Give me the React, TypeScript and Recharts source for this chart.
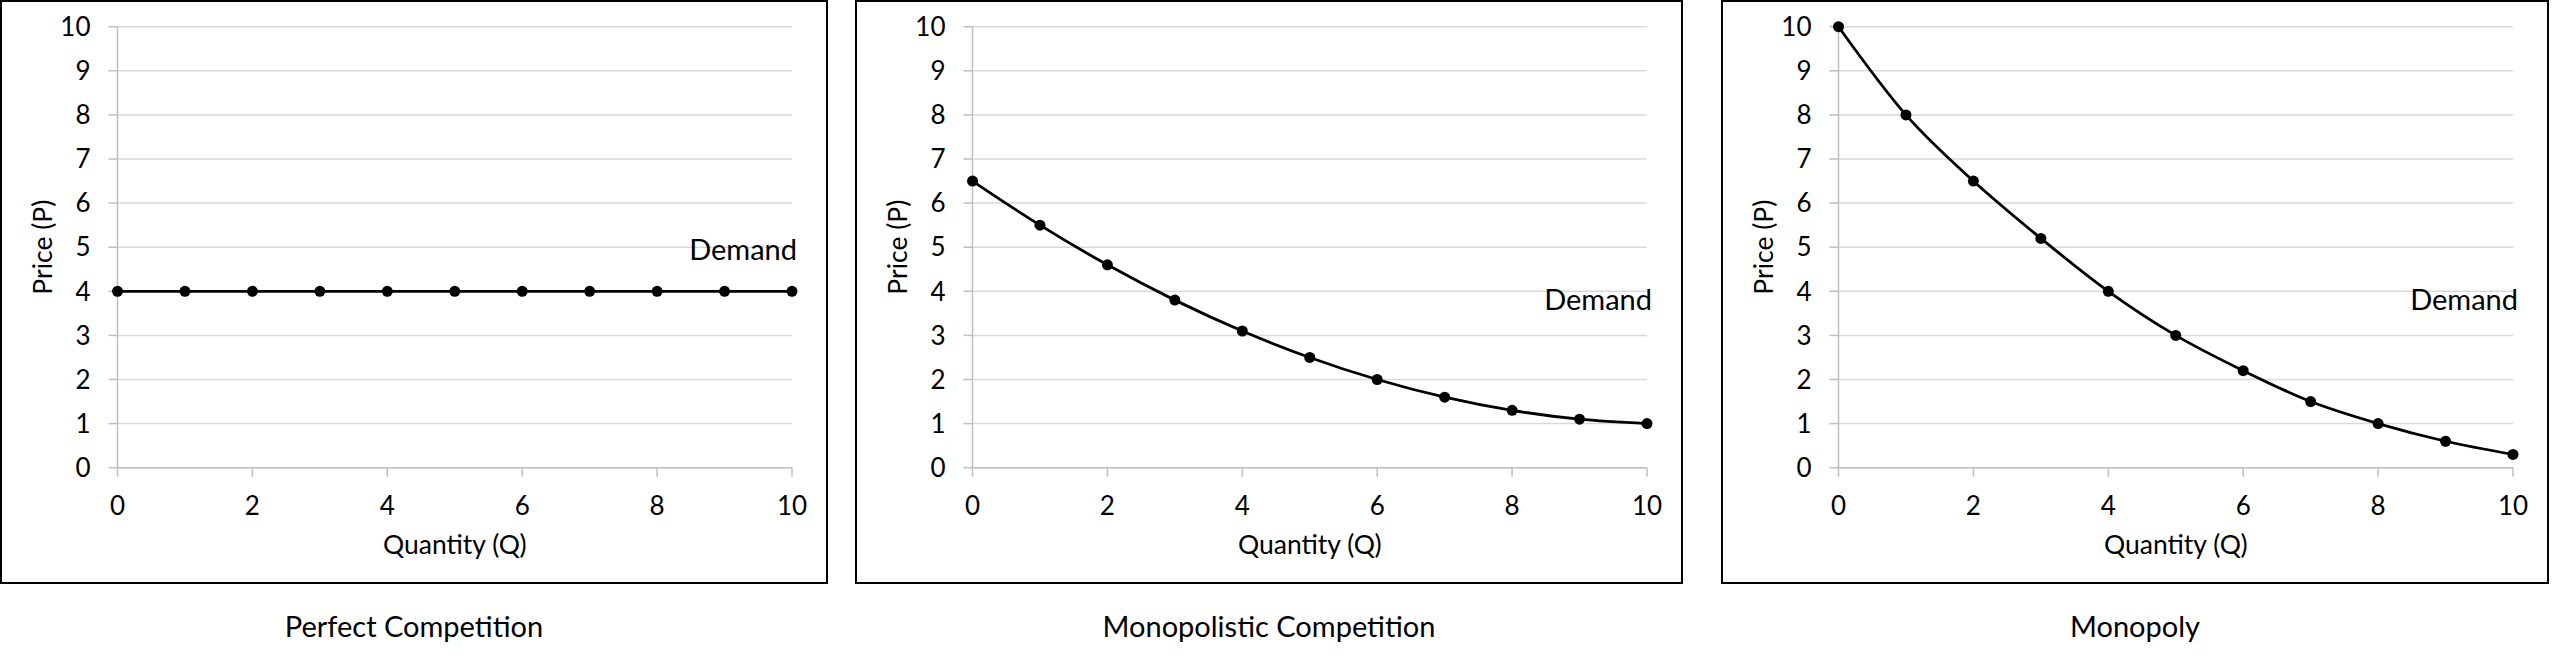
import { LineChart, Line, XAxis, YAxis, CartesianGrid, ReferenceDot } from "recharts";

const QUANTITY = [0, 1, 2, 3, 4, 5, 6, 7, 8, 9, 10];
const PERFECT_PRICE = [4, 4, 4, 4, 4, 4, 4, 4, 4, 4, 4];
const MONOPOLISTIC_PRICE = [6.5, 5.5, 4.6, 3.8, 3.1, 2.5, 2.0, 1.6, 1.3, 1.1, 1.0];
const MONOPOLY_PRICE = [10, 8, 6.5, 5.2, 4.0, 3.0, 2.2, 1.5, 1.0, 0.6, 0.3];
const X_TICKS = [0, 2, 4, 6, 8, 10];
const Y_TICKS = [0, 1, 2, 3, 4, 5, 6, 7, 8, 9, 10];
const TITLES = ["Perfect Competition", "Monopolistic Competition", "Monopoly"];
// price level where the "Demand" note sits in each panel
const DEMAND_NOTE_AT = [4.95, 3.8, 3.8];

const FONT = "Lato, 'Open Sans', sans-serif";
const AXIS_GRAY = "#bfbfbf";
const GRID_GRAY = "#d9d9d9";

const FRAME_W = 828;
const FRAME_H = 584;

function toRows(prices: number[]) {
  return QUANTITY.map((q, i) => ({ q, p: prices[i] }));
}

interface PanelProps {
  left: number;
  title: string;
  prices: number[];
  noteAt: number;
}

function Panel({ left, title, prices, noteAt }: PanelProps) {
  const data = toRows(prices);
  return (
    <>
      <div
        style={{
          position: "absolute",
          left,
          top: 0,
          width: FRAME_W,
          height: FRAME_H,
          border: "2px solid #000",
          boxSizing: "border-box",
          background: "#fff",
        }}
      >
        <LineChart
          width={FRAME_W - 4}
          height={FRAME_H - 4}
          data={data}
          margin={{ top: 24.7, right: 34, left: 0, bottom: 0 }}
          style={{ fontFamily: FONT }}
        >
          <CartesianGrid vertical={false} stroke={GRID_GRAY} strokeWidth={1.5} />
          <XAxis
            dataKey="q"
            type="number"
            domain={[0, 10]}
            ticks={X_TICKS}
            height={114.3}
            stroke={AXIS_GRAY}
            strokeWidth={1.5}
            tickSize={9}
            tickMargin={20}
            tick={{ fontSize: 26, fill: "#000" }}
            label={{
              value: "Quantity (Q)",
              position: "insideBottom",
              offset: 28,
              style: { fontSize: 26.5, fill: "#000" },
            }}
          />
          <YAxis
            type="number"
            domain={[0, 10]}
            ticks={Y_TICKS}
            width={115.5}
            stroke={AXIS_GRAY}
            strokeWidth={1.5}
            tickSize={9}
            tickMargin={18}
            tick={{ fontSize: 26, fill: "#000" }}
            label={{
              value: "Price (P)",
              angle: -90,
              position: "insideLeft",
              offset: 41,
              style: { fontSize: 26.5, fill: "#000", textAnchor: "middle" },
            }}
          />
          <Line
            dataKey="p"
            type="monotone"
            stroke="#000"
            strokeWidth={2.8}
            dot={{ r: 5.5, fill: "#000", stroke: "#000", strokeWidth: 0 }}
            isAnimationActive={false}
          />
          <ReferenceDot
            x={10}
            y={noteAt}
            r={0}
            stroke="none"
            fill="none"
            ifOverflow="visible"
            label={{
              value: "Demand",
              position: "left",
              offset: -5,
              style: { fontSize: 29, fill: "#000" },
            }}
          />
        </LineChart>
      </div>
      <div
        style={{
          position: "absolute",
          left,
          top: 606,
          width: FRAME_W,
          height: 40,
          lineHeight: "40px",
          textAlign: "center",
          fontFamily: FONT,
          fontSize: 29,
          color: "#000",
        }}
      >
        {title}
      </div>
    </>
  );
}

const LEFTS = [0, 855, 1721];
const PRICES = [PERFECT_PRICE, MONOPOLISTIC_PRICE, MONOPOLY_PRICE];

export default function App() {
  return (
    <div
      style={{
        position: "absolute",
        left: 0,
        top: 0,
        width: 2560,
        height: 665,
        background: "#fff",
        overflow: "hidden",
      }}
    >
      {TITLES.map((t, i) => (
        <Panel key={t} left={LEFTS[i]} title={t} prices={PRICES[i]} noteAt={DEMAND_NOTE_AT[i]} />
      ))}
    </div>
  );
}
